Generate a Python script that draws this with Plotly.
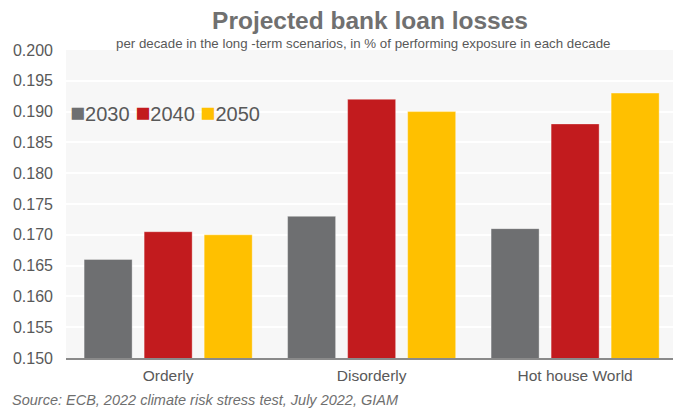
import plotly.graph_objects as go

# Scenario categories and projected loan losses per decade (% of performing exposure)
scenarios = ["Orderly", "Disorderly", "Hot house World"]
years = ["2030", "2040", "2050"]
losses_2030 = [0.166, 0.173, 0.171]
losses_2040 = [0.1705, 0.192, 0.188]
losses_2050 = [0.170, 0.190, 0.193]
y_ticks = [0.150, 0.155, 0.160, 0.165, 0.170, 0.175, 0.180, 0.185, 0.190, 0.195, 0.200]

colors = ["#6e6f71", "#c21b1e", "#ffc000"]
series = [losses_2030, losses_2040, losses_2050]

FONT = "Liberation Sans, Arial, sans-serif"
TEXT = "#595959"

fig = go.Figure()
for name, vals, col in zip(years, series, colors):
    fig.add_trace(go.Bar(
        x=scenarios, y=vals, name=name,
        marker=dict(color=col, line=dict(color="rgba(255,255,255,0.35)", width=1)),
        showlegend=False,
    ))

# Compact inline legend: coloured square followed by the year
legend_text = "".join(
    f"<span style='color:{c};font-size:25px'>■</span>{n}&nbsp;"
    for n, c in zip(years, colors)
)

fig.update_layout(
    width=673, height=410,
    margin=dict(l=66, r=0, t=50, b=52),
    paper_bgcolor="white",
    plot_bgcolor="#f7f7f7",
    barmode="group",
    bargap=0.115,
    bargroupgap=0.2,
    font=dict(family=FONT, color=TEXT),
    title=dict(
        text="<b>Projected bank loan losses</b>",
        font=dict(family=FONT, size=24.5, color="#707070"),
        x=370 / 673, xref="container", xanchor="center",
        y=1 - 20 / 410, yref="container", yanchor="middle",
    ),
    xaxis=dict(
        range=[-0.502, 2.481],
        showgrid=False,
        showline=True, linecolor="#8a8a8a", linewidth=1.5,
        ticks="", tickfont=dict(size=15.5, color=TEXT),
        ticklabelstandoff=3,
    ),
    yaxis=dict(
        range=[0.150, 0.200],
        tickvals=y_ticks, tickformat=".3f",
        showgrid=True, gridcolor="white", gridwidth=1.5,
        zeroline=False, showline=False,
        ticks="", tickfont=dict(size=16, color=TEXT),
        ticklabelstandoff=12,
    ),
    annotations=[
        dict(
            text="per decade in the long -term scenarios, in % of performing exposure in each decade",
            xref="paper", yref="paper", x=(363 - 66) / 607, y=1 + 7 / 308,
            xanchor="center", yanchor="middle", showarrow=False,
            font=dict(family=FONT, size=13.3, color=TEXT),
        ),
        dict(
            text=legend_text,
            xref="paper", yref="paper", x=(68 - 66) / 607, y=(358 - 112) / 308,
            xanchor="left", yanchor="middle", showarrow=False,
            font=dict(family=FONT, size=20, color=TEXT),
        ),
        dict(
            text="<i>Source: ECB, 2022 climate risk stress test, July 2022, GIAM</i>",
            xref="paper", yref="paper", x=-(66 - 10) / 607, y=-(400 - 358) / 308,
            xanchor="left", yanchor="middle", showarrow=False,
            font=dict(family=FONT, size=14.5, color="#6f6f6f"),
        ),
    ],
)

fig.write_html("out.html")
